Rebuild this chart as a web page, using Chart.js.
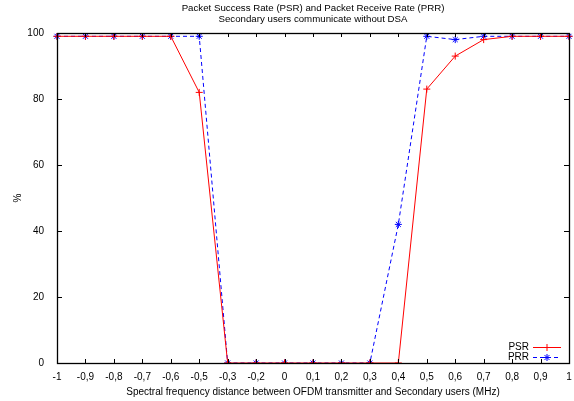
<!DOCTYPE html>
<html lang="en">
<head>
    <meta charset="UTF-8">
    <title>Packet Success Rate (PSR) and Packet Receive Rate (PRR)</title>
    <script src="https://cdn.jsdelivr.net/npm/chart.js"></script>
    <style>
        html, body { margin: 0; padding: 0; background: #fff; }
        #wrap { width: 574px; height: 401px; position: relative; }
    </style>
</head>
<body>
    <div id="wrap"><canvas id="grafico"></canvas></div>
    <script>
        // valores
        const categories = ['-1', '-0,9', '-0,8', '-0,7', '-0,6', '-0,5', '-0,3', '-0,2', '0', '0,1',
                            '0,2', '0,3', '0,4', '0,5', '0,6', '0,7', '0,8', '0,9', '1'];
        const psrValues = [99, 99, 99, 99, 99, 82, 0, 0, 0, 0, 0, 0, 0, 83, 93, 98, 99, 99, 99];
        const prrValues = [99, 99, 99, 99, 99, 99, 0, 0, 0, 0, 0, 0, 42, 99, 98, 99, 99, 99, 99];
        const yTicks = [0, 20, 40, 60, 80, 100];
        const titleLines = ['Packet Success Rate (PSR) and Packet Receive Rate (PRR)',
                            'Secondary users communicate without DSA'];

        const FONT = "'Liberation Sans', Arial, sans-serif";

        // marco, ticks hacia dentro, titulo y leyenda al estilo gnuplot
        const gnuplotLook = {
            id: 'gnuplotLook',
            afterDraw(chart) {
                const ctx = chart.ctx;
                const a = chart.chartArea;
                const xs = chart.scales.x, ys = chart.scales.y;
                ctx.save();
                ctx.strokeStyle = '#000';
                ctx.lineWidth = 1;
                ctx.beginPath();
                categories.forEach((c, i) => {
                    const px = Math.round(xs.getPixelForValue(i)) + 0.5;
                    ctx.moveTo(px, a.bottom); ctx.lineTo(px, a.bottom - 4);
                    ctx.moveTo(px, a.top); ctx.lineTo(px, a.top + 4);
                });
                yTicks.forEach(v => {
                    const py = Math.round(ys.getPixelForValue(v)) + 0.5;
                    ctx.moveTo(a.left, py); ctx.lineTo(a.left + 5, py);
                    ctx.moveTo(a.right, py); ctx.lineTo(a.right - 5, py);
                });
                ctx.stroke();
                ctx.lineWidth = 1.3;
                ctx.strokeRect(Math.round(a.left) + 0.5, Math.round(a.top) + 0.5,
                               Math.round(a.right - a.left), Math.round(a.bottom - a.top));

                // titulo
                ctx.fillStyle = '#000';
                ctx.font = '9.7px ' + FONT;
                ctx.textAlign = 'center';
                ctx.textBaseline = 'middle';
                const cx = (a.left + a.right) / 2;
                ctx.fillText(titleLines[0], cx, 8);
                ctx.fillText(titleLines[1], cx, 19);

                // leyenda
                ctx.font = '10px ' + FONT;
                ctx.textAlign = 'right';
                chart.data.datasets.forEach((ds, i) => {
                    const ly = a.bottom - 16 + i * 10;
                    ctx.fillStyle = '#000';
                    ctx.fillText(ds.label, a.right - 40, ly);
                    ctx.strokeStyle = ds.borderColor;
                    ctx.lineWidth = 1;
                    ctx.setLineDash(ds.borderDash || []);
                    ctx.beginPath();
                    ctx.moveTo(a.right - 36, ly + 0.5);
                    ctx.lineTo(a.right - 8, ly + 0.5);
                    ctx.stroke();
                    ctx.setLineDash([]);
                    Chart.helpers.drawPoint(ctx, {
                        pointStyle: ds.pointStyle, radius: ds.pointRadius,
                        borderWidth: 1, rotation: 0
                    }, a.right - 22, ly + 0.5);
                });
                ctx.restore();
            }
        };

        const ctx = document.getElementById('grafico').getContext('2d');
        const chart = new Chart(ctx, {
            type: 'line',
            data: {
                labels: categories,
                datasets: [{
                    label: 'PSR',
                    data: psrValues,
                    borderColor: '#ff0000',
                    backgroundColor: '#ff0000',
                    borderWidth: 1,
                    pointStyle: 'cross',
                    pointRadius: 3.5,
                    pointBorderWidth: 1,
                    tension: 0
                }, {
                    label: 'PRR',
                    data: prrValues,
                    borderColor: '#0000ff',
                    backgroundColor: '#0000ff',
                    borderWidth: 1,
                    borderDash: [4, 3],
                    pointStyle: 'star',
                    pointRadius: 3.5,
                    pointBorderWidth: 1,
                    tension: 0
                }]
            },
            options: {
                responsive: true,
                maintainAspectRatio: false,
                animation: false,
                layout: { padding: { top: 33, right: 5, left: 0, bottom: 0 } },
                plugins: {
                    legend: { display: false },
                    tooltip: { enabled: false },
                    title: { display: false }
                },
                scales: {
                    x: {
                        type: 'category',
                        offset: false,
                        grid: { display: false },
                        border: { display: false },
                        ticks: {
                            autoSkip: false, maxRotation: 0, minRotation: 0,
                            color: '#000', padding: 0,
                            font: { family: FONT, size: 10 }
                        },
                        title: {
                            display: true,
                            text: 'Spectral frequency distance between OFDM transmitter and Secondary users (MHz)',
                            color: '#000',
                            font: { family: FONT, size: 10 },
                            padding: { top: 0, bottom: 3 }
                        },
                        afterFit(scale) { scale.height = 38; }
                    },
                    y: {
                        min: 0, max: 100,
                        grid: { display: false },
                        border: { display: false },
                        ticks: {
                            stepSize: 20, color: '#000', padding: 5,
                            font: { family: FONT, size: 10 }
                        },
                        title: {
                            display: true, text: '%', color: '#000',
                            font: { family: FONT, size: 10 },
                            padding: { top: 12, bottom: 0 }
                        },
                        afterFit(scale) { scale.width = 57; }
                    }
                }
            },
            plugins: [gnuplotLook]
        });
    </script>
</body>
</html>
